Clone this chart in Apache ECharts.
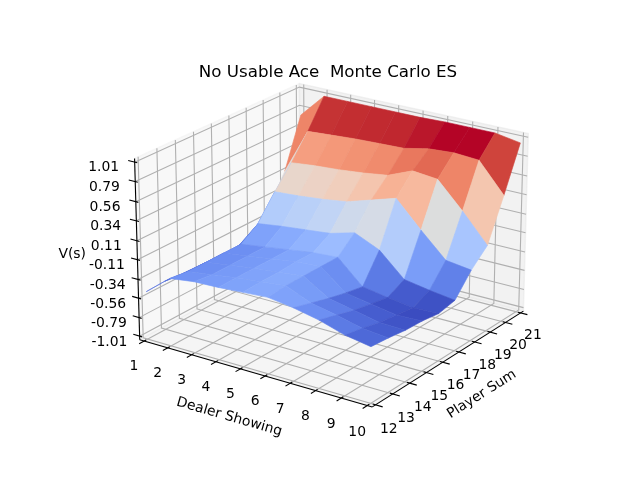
<!DOCTYPE html>
<html>
<head>
<meta charset="utf-8">
<title>No Usable Ace  Monte Carlo ES</title>
<script src="https://cdn.jsdelivr.net/npm/echarts@6.0.0/dist/echarts.min.js"></script>
<style>
  html, body { margin: 0; padding: 0; background: #fff; }
  #main { width: 640px; height: 480px; }
</style>
</head>
<body>
<div id="main"></div>
<script>
var dealerShowing = [1, 2, 3, 4, 5, 6, 7, 8, 9, 10];
var playerSum = [12, 13, 14, 15, 16, 17, 18, 19, 20, 21];
var zTickLabels = ['-1.01', '-0.79', '-0.56', '-0.34', '-0.11', '0.11', '0.34', '0.56', '0.79', '1.01'];
var zLimits = [-1.01, 1.01];

// V(s) for each player sum, dealer showing 1..10
var vSum12 = [-0.49, -0.26, -0.22, -0.21, -0.19, -0.17, -0.21, -0.27, -0.36, -0.41];
var vSum13 = [-0.48, -0.29, -0.25, -0.21, -0.18, -0.15, -0.27, -0.33, -0.40, -0.43];
var vSum14 = [-0.50, -0.29, -0.25, -0.21, -0.18, -0.15, -0.33, -0.39, -0.45, -0.46];
var vSum15 = [-0.51, -0.29, -0.25, -0.21, -0.17, -0.15, -0.38, -0.43, -0.48, -0.47];
var vSum16 = [-0.53, -0.29, -0.25, -0.21, -0.17, -0.15, -0.42, -0.47, -0.51, -0.50];
var vSum17 = [-0.54, -0.15, -0.11, -0.08, -0.05, 0.03, -0.10, -0.37, -0.42, -0.46];
var vSum18 = [-0.46, 0.13, 0.15, 0.18, 0.22, 0.31, 0.40, 0.10, -0.18, -0.22];
var vSum19 = [-0.24, 0.38, 0.41, 0.43, 0.46, 0.50, 0.62, 0.59, 0.29, -0.04];
var vSum20 = [0.11, 0.66, 0.68, 0.70, 0.71, 0.72, 0.78, 0.80, 0.78, 0.44];
var vSum21 = [0.70, 0.99, 0.99, 0.99, 0.99, 0.99, 1.00, 1.00, 1.00, 0.95];
var valueRows = [vSum12, vSum13, vSum14, vSum15, vSum16, vSum17, vSum18, vSum19, vSum20, vSum21];

var xr = [dealerShowing[0], dealerShowing[dealerShowing.length - 1]];
var yr = [playerSum[0], playerSum[playerSum.length - 1]];
var zr = zLimits;
function padLo(r) { return r[0] - (r[1] - r[0]) / 48; }
function padHi(r) { return r[1] + (r[1] - r[0]) / 48; }

// view of the 3d box (mplot3d-like perspective camera)
var VIEW = { elev: 21.6, azim: -55.6, dist: 10.21, boxZ: 0.69, scale: 2739.9, cx: 333.9, cy: 236.7 };

function makeCamera(view) {
    var e = view.elev * Math.PI / 180, a = view.azim * Math.PI / 180, bz = view.boxZ;
    var n = [Math.cos(e) * Math.cos(a), Math.cos(e) * Math.sin(a), Math.sin(e)];
    var eye = [0.5 + view.dist * n[0], 0.5 + view.dist * n[1], bz / 2 + view.dist * n[2]];
    var ul = Math.sqrt(n[0] * n[0] + n[1] * n[1]);
    var u = [-n[1] / ul, n[0] / ul, 0];
    var v = [n[1] * u[2] - n[2] * u[1], n[2] * u[0] - n[0] * u[2], n[0] * u[1] - n[1] * u[0]];
    return function (x, y, z) {
        var X = (x - xr[0]) / (xr[1] - xr[0]);
        var Y = (y - yr[0]) / (yr[1] - yr[0]);
        var Z = (z - zr[0]) / (zr[1] - zr[0]) * bz;
        var d0 = X - eye[0], d1 = Y - eye[1], d2 = Z - eye[2];
        var w = -(n[0] * d0 + n[1] * d1 + n[2] * d2);
        return [view.cx + view.scale * (u[0] * d0 + u[1] * d1) / w,
                view.cy - view.scale * (v[0] * d0 + v[1] * d1 + v[2] * d2) / w, w];
    };
}
var project = makeCamera(VIEW);

// matplotlib coolwarm
var coolwarmStops = [
    [0.2298, 0.2987, 0.7537], [0.2662, 0.3531, 0.8015], [0.3039, 0.4065, 0.8450], [0.3428, 0.4588, 0.8837],
    [0.3830, 0.5094, 0.9174], [0.4244, 0.5581, 0.9456], [0.4667, 0.6046, 0.9682], [0.5096, 0.6483, 0.9848],
    [0.5530, 0.6889, 0.9954], [0.5963, 0.7261, 0.9998], [0.6392, 0.7596, 0.9982], [0.6813, 0.7890, 0.9904],
    [0.7222, 0.8140, 0.9766], [0.7615, 0.8343, 0.9569], [0.7987, 0.8498, 0.9317], [0.8335, 0.8602, 0.9011],
    [0.8654, 0.8654, 0.8654], [0.8978, 0.8489, 0.8209], [0.9241, 0.8274, 0.7745], [0.9445, 0.8009, 0.7267],
    [0.9589, 0.7698, 0.6780], [0.9673, 0.7341, 0.6288], [0.9700, 0.6943, 0.5794], [0.9668, 0.6504, 0.5303],
    [0.9580, 0.6028, 0.4818], [0.9437, 0.5518, 0.4342], [0.9239, 0.4973, 0.3880], [0.8990, 0.4396, 0.3432],
    [0.8692, 0.3783, 0.3003], [0.8346, 0.3129, 0.2593], [0.7956, 0.2413, 0.2205], [0.7525, 0.1572, 0.1841],
    [0.7057, 0.0156, 0.1502]
];
function coolwarm(t) {
    t = Math.max(0, Math.min(1, t));
    var s = t * (coolwarmStops.length - 1), i = Math.min(Math.floor(s), coolwarmStops.length - 2), f = s - i;
    var a = coolwarmStops[i], b = coolwarmStops[i + 1];
    return 'rgb(' + [0, 1, 2].map(function (c) { return Math.round((a[c] + (b[c] - a[c]) * f) * 255); }).join(',') + ')';
}

// surface facets, far ones first
var facets = [], avgMin = Infinity, avgMax = -Infinity;
for (var i = 0; i < playerSum.length - 1; i++) {
    for (var j = 0; j < dealerShowing.length - 1; j++) {
        var avg = (valueRows[i][j] + valueRows[i][j + 1] + valueRows[i + 1][j] + valueRows[i + 1][j + 1]) / 4;
        avgMin = Math.min(avgMin, avg); avgMax = Math.max(avgMax, avg);
        var c = project((dealerShowing[j] + dealerShowing[j + 1]) / 2, (playerSum[i] + playerSum[i + 1]) / 2, avg);
        facets.push([i, j, avg, c[2]]);
    }
}
facets.sort(function (a, b) { return b[3] - a[3]; });

var FONT = 'DejaVu Sans';
var TICK_SIZE = 13.9;

function pt(x, y, z) { var p = project(x, y, z); return [p[0], p[1]]; }
function textEl(str, p, size, rot) {
    return {
        type: 'text', x: p[0], y: p[1], rotation: rot || 0,
        style: { text: str, fill: '#000', fontSize: size, fontFamily: FONT,
                 align: 'center', verticalAlign: 'middle', textAlign: 'center', textVerticalAlign: 'middle' }
    };
}

function renderFrame(params, api) {
    var ch = [];
    var x0 = padLo(xr), x1 = padHi(xr), y0 = padLo(yr), y1 = padHi(yr), z0 = padLo(zr), z1 = padHi(zr);
    var dx = xr[1] - xr[0], dy = yr[1] - yr[0], dz = zr[1] - zr[0];
    function pane(pts, col) {
        ch.push({ type: 'polygon', shape: { points: pts }, style: { fill: col, stroke: col, lineWidth: 1.4 } });
    }
    function pl(pts, col, lw) {
        ch.push({ type: 'polyline', shape: { points: pts }, style: { fill: null, stroke: col, lineWidth: lw } });
    }
    // panes
    pane([pt(x0, y0, z0), pt(x0, y1, z0), pt(x0, y1, z1), pt(x0, y0, z1)], 'rgba(242,242,242,0.5)');
    pane([pt(x0, y1, z0), pt(x1, y1, z0), pt(x1, y1, z1), pt(x0, y1, z1)], 'rgba(230,230,230,0.5)');
    pane([pt(x0, y0, z0), pt(x1, y0, z0), pt(x1, y1, z0), pt(x0, y1, z0)], 'rgba(236,236,236,0.5)');

    // grid
    var zTicks = zTickLabels.map(Number);
    dealerShowing.forEach(function (d) { pl([pt(d, y0, z0), pt(d, y1, z0), pt(d, y1, z1)], '#b0b0b0', 1.1); });
    playerSum.forEach(function (p) { pl([pt(x0, p, z1), pt(x0, p, z0), pt(x1, p, z0)], '#b0b0b0', 1.1); });
    zTicks.forEach(function (z) { pl([pt(x1, y1, z), pt(x0, y1, z), pt(x0, y0, z)], '#b0b0b0', 1.1); });

    // axis lines
    pl([pt(x0, y0, z0), pt(x1, y0, z0)], '#000', 1.1);
    pl([pt(x1, y0, z0), pt(x1, y1, z0)], '#000', 1.1);
    pl([pt(x0, y0, z0), pt(x0, y0, z1)], '#000', 1.1);

    // ticks and tick labels
    dealerShowing.forEach(function (d) {
        pl([pt(d, y0 + 0.012 * dy, z0), pt(d, y0 - 0.03 * dy, z0)], '#000', 1.1);
        ch.push(textEl(String(d), pt(d, y0 - 0.064 * dy, z0 - 0.114 * dz), TICK_SIZE));
    });
    playerSum.forEach(function (p) {
        pl([pt(x1 - 0.012 * dx, p, z0), pt(x1 + 0.03 * dx, p, z0)], '#000', 1.1);
        ch.push(textEl(String(p), pt(x1 + 0.057 * dx, p, z0 - 0.115 * dz), TICK_SIZE));
    });
    zTicks.forEach(function (z, k) {
        pl([pt(x0 + 0.012 * dx, y0, z), pt(x0 - 0.03 * dx, y0, z)], '#000', 1.1);
        ch.push(textEl(zTickLabels[k], pt(x0 - 0.057 * dx, y0 - 0.108 * dy, z), TICK_SIZE));
    });

    // axis titles
    var a0 = pt(x0, y0, z0), a1 = pt(x1, y0, z0), b1 = pt(x1, y1, z0);
    ch.push(textEl('Dealer Showing', pt((xr[0] + xr[1]) / 2, y0 - 0.147 * dy, z0 - 0.176 * dz), TICK_SIZE,
        -Math.atan2(a1[1] - a0[1], a1[0] - a0[0])));
    ch.push(textEl('Player Sum', pt(x1 + 0.136 * dx, (yr[0] + yr[1]) / 2, z0 - 0.166 * dz), TICK_SIZE,
        -Math.atan2(b1[1] - a1[1], b1[0] - a1[0])));
    ch.push(textEl('V(s)', pt(x0 - 0.172 * dx, y0 - 0.166 * dy, (zr[0] + zr[1]) / 2), TICK_SIZE));

    ch.push(textEl('No Usable Ace  Monte Carlo ES', [328, 73], 16.7));
    return { type: 'group', children: ch };
}

function renderFacet(params, api) {
    var i = api.value(0), j = api.value(1), avg = api.value(2);
    var pts = [[i, j], [i, j + 1], [i + 1, j + 1], [i + 1, j]].map(function (c) {
        return pt(dealerShowing[c[1]], playerSum[c[0]], valueRows[c[0]][c[1]]);
    });
    var col = coolwarm((avg - avgMin) / (avgMax - avgMin));
    return { type: 'polygon', shape: { points: pts }, style: { fill: col, stroke: col, lineWidth: 0.6 } };
}

var chart = echarts.init(document.getElementById('main'));
chart.setOption({
    animation: false,
    backgroundColor: '#fff',
    series: [
        { type: 'custom', coordinateSystem: 'none', silent: true, renderItem: renderFrame, data: [[0]], z: 1 },
        { type: 'custom', coordinateSystem: 'none', silent: true, renderItem: renderFacet, data: facets, z: 2 }
    ]
});
</script>
</body>
</html>
